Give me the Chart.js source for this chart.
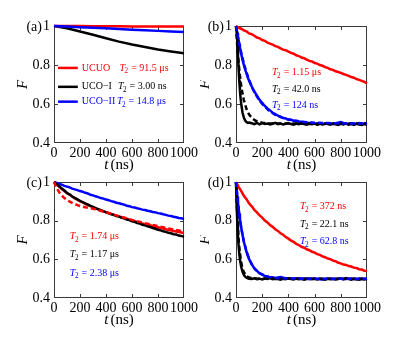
<!DOCTYPE html>
<html><head><meta charset="utf-8">
<script src="https://cdn.jsdelivr.net/npm/chart.js@4.4.1/dist/chart.umd.min.js"></script>
<style>
body{margin:0;background:#fff;}
#wrap{position:relative;width:415px;height:364px;overflow:hidden;}
canvas{position:absolute;}
</style>
</head><body><div id="wrap">
<canvas id="ca" width="200" height="180" style="left:0;top:0;width:200px;height:180px"></canvas>
<canvas id="cb" width="215" height="180" style="left:200px;top:0;width:215px;height:180px"></canvas>
<canvas id="cc" width="200" height="204" style="left:0;top:160px;width:200px;height:204px"></canvas>
<canvas id="cd" width="215" height="204" style="left:200px;top:160px;width:215px;height:204px"></canvas>
</div>
<script>
// ---- tick labels ----
const xTicks = [0, 200, 400, 600, 800, 1000];
const yTicks = [0.4, 0.6, 0.8, 1];

// ---- time grids (ns) ----
const tCoarse = [0,100,200,300,400,500,600,700,800,900,1000];
const tSlow = [0,20,40,60,80,100,120,140,160,180,200,220,240,260,280,300,320,340,360,380,400,420,440,460,480,500,520,540,560,580,600,620,640,660,680,700,720,740,760,780,800,820,840,860,880,900,920,940,960,980,1000];
const tFast = [0,5,10,15,20,25,30,35,40,50,60,70,80,90,100,120,140,160,180,200,220,240,260,280,300,320,340,360,380,400,420,440,460,480,500,520,540,560,580,600,620,640,660,680,700,720,740,760,780,800,820,840,860,880,900,920,940,960,980,1000];
const tFit = [0,10,20,30,40,50,60,80,100,125,150,175,200,250,300,350,400,500,600,700,800,900,1000];

// ---- panel (a) ----
const aRed   = [1,1,1,0.999,0.999,0.999,0.998,0.998,0.998,0.997,0.997];
const aBlack = [1,0.988,0.972,0.955,0.937,0.920,0.905,0.892,0.879,0.869,0.860];
const aBlue  = [1,0.997,0.994,0.991,0.988,0.985,0.981,0.978,0.975,0.972,0.969];

// ---- panel (b) ----
const bRed = [1.000,0.991,0.986,0.978,0.972,0.962,0.958,0.950,0.941,0.937,0.928,0.924,0.915,0.910,0.904,0.897,0.893,0.885,0.879,0.876,0.869,0.862,0.858,0.850,0.846,0.838,0.835,0.828,0.821,0.818,0.810,0.807,0.800,0.796,0.789,0.785,0.778,0.775,0.768,0.764,0.760,0.754,0.749,0.744,0.738,0.735,0.728,0.724,0.719,0.713,0.706];
const bBlack = [1.000,0.97,0.92,0.85,0.78,0.72,0.67,0.63,0.60,0.555,0.53,0.515,0.507,0.503,0.505,
  0.501,0.497,0.503,0.496,0.502,0.498,0.500,0.495,0.499,0.503,0.497,0.500,0.495,0.498,0.502,0.497,0.494,0.500,0.496,0.501,0.497,0.494,0.499,0.496,0.500,0.493,0.498,0.495,0.500,0.497,0.494,0.499,0.496,0.493,0.498,0.495,0.500,0.494,0.497,0.493,0.498,0.495,0.492,0.497,0.494];
const bBlue = [1.000,0.984,0.966,0.947,0.927,0.906,0.889,0.872,0.857,0.826,0.801,0.776,0.757,0.736,0.719,
  0.690,0.664,0.643,0.621,0.606,0.590,0.577,0.567,0.555,0.548,0.540,0.535,0.528,0.526,0.520,0.519,0.514,0.513,0.509,0.509,0.505,0.505,0.502,0.503,0.499,0.499,0.501,0.498,0.497,0.500,0.501,0.498,0.501,0.504,0.507,0.503,0.500,0.498,0.501,0.499,0.500,0.502,0.499,0.500,0.501];
const bBlackFit = [1,0.894,0.81,0.745,0.693,0.652,0.62,0.574,0.546,0.526,0.514,0.508,0.504,0.501,0.5,0.5,0.5,0.5,0.5,0.5,0.5,0.5,0.5];
const bBlueFit  = [1,0.961,0.926,0.893,0.862,0.834,0.808,0.762,0.723,0.682,0.649,0.622,0.6,0.567,0.544,0.530,0.520,0.509,0.504,0.502,0.501,0.5,0.5];

// ---- panel (c) ----
const cRed = [1.000,0.987,0.976,0.963,0.953,0.942,0.934,0.925,0.915,0.909,0.900,0.895,0.887,0.881,0.876,0.869,0.864,0.858,0.853,0.848,0.844,0.838,0.835,0.830,0.826,0.822,0.818,0.814,0.810,0.804,0.801,0.797,0.793,0.790,0.785,0.782,0.779,0.776,0.772,0.768,0.766,0.762,0.759,0.756,0.752,0.750,0.747,0.744,0.741,0.739,0.736];
const cBlack = [1.000,0.988,0.978,0.966,0.956,0.943,0.936,0.925,0.918,0.910,0.903,0.896,0.889,0.884,0.877,0.871,0.865,0.860,0.854,0.849,0.843,0.839,0.833,0.830,0.824,0.821,0.815,0.812,0.806,0.803,0.797,0.794,0.788,0.785,0.779,0.776,0.771,0.767,0.762,0.758,0.753,0.750,0.745,0.742,0.737,0.735,0.730,0.728,0.723,0.721,0.716];
const cBlue = [1.000,0.995,0.990,0.986,0.980,0.976,0.972,0.966,0.962,0.958,0.953,0.950,0.944,0.941,0.934,0.931,0.926,0.922,0.917,0.914,0.909,0.906,0.901,0.898,0.893,0.890,0.886,0.883,0.877,0.875,0.870,0.868,0.864,0.861,0.857,0.855,0.851,0.849,0.845,0.843,0.839,0.837,0.833,0.830,0.826,0.824,0.820,0.818,0.814,0.812,0.808];
const cRedFit = [1,0.984,0.970,0.958,0.947,0.938,0.930,0.917,0.907,0.897,0.889,0.882,0.876,0.868,0.862,0.853,0.844,0.823,0.804,0.787,0.772,0.757,0.744];

// ---- panel (d) ----
const dRed = [1.000,0.975,0.953,0.929,0.911,0.889,0.874,0.856,0.843,0.827,0.816,0.801,0.791,0.777,0.768,0.755,0.747,0.735,0.727,0.715,0.707,0.697,0.690,0.680,0.674,0.665,0.660,0.652,0.647,0.639,0.635,0.627,0.623,0.615,0.611,0.604,0.601,0.593,0.590,0.582,0.579,0.573,0.571,0.565,0.563,0.557,0.555,0.549,0.547,0.541,0.539];
const dBlack = [1.000,0.88,0.79,0.72,0.67,0.63,0.60,0.58,0.56,0.535,0.52,0.51,0.505,0.502,0.50,
  0.498,0.502,0.497,0.500,0.496,0.501,0.499,0.503,0.497,0.500,0.498,0.495,0.500,0.497,0.502,0.498,0.496,0.500,0.497,0.499,0.495,0.498,0.501,0.497,0.499,0.496,0.500,0.498,0.495,0.499,0.497,0.500,0.496,0.498,0.501,0.497,0.503,0.498,0.495,0.499,0.497,0.494,0.498,0.496,0.499];
const dBlue = [1.000,0.962,0.925,0.895,0.863,0.837,0.809,0.787,0.763,0.726,0.691,0.665,0.639,0.620,0.601,
  0.575,0.553,0.540,0.527,0.522,0.514,0.512,0.507,0.507,0.503,0.506,0.508,0.505,0.502,0.500,0.501,0.499,0.500,0.502,0.498,0.500,0.501,0.497,0.499,0.500,0.498,0.497,0.496,0.498,0.500,0.499,0.497,0.498,0.500,0.499,0.497,0.498,0.500,0.499,0.498,0.497,0.499,0.500,0.498,0.499];
const dBlackFit = [1,0.818,0.702,0.629,0.582,0.552,0.533,0.514,0.506,0.502,0.501,0.5,0.5,0.5,0.5,0.5,0.5,0.5,0.5,0.5,0.5,0.5,0.5];
const dBlueFit  = [1,0.926,0.864,0.81,0.764,0.726,0.693,0.641,0.602,0.568,0.546,0.531,0.521,0.509,0.504,0.502,0.501,0.5,0.5,0.5,0.5,0.5,0.5];

const RED = '#ff0000', BLACK = '#000000', BLUE = '#0000ff';
const SERIF = '"Liberation Serif","Times New Roman",serif';

function series(t, f, color, dashed, order) {
  return {
    data: t.map((x, i) => ({ x: x, y: f[i] })),
    borderColor: color, borderWidth: 2.5,
    borderDash: dashed ? [5, 3] : [],
    pointRadius: 0, fill: false, tension: 0, clip: false, order: order
  };
}

function drawT2(ctx, x, y, rest, color, fs) {
  ctx.fillStyle = color; ctx.textBaseline = 'middle'; ctx.textAlign = 'left';
  ctx.font = 'italic ' + fs + 'px ' + SERIF;
  ctx.fillText('T', x, y);
  let w = ctx.measureText('T').width;
  ctx.font = (fs * 0.72) + 'px ' + SERIF;
  ctx.fillText('2', x + w - 0.5, y + fs * 0.32);
  w += ctx.measureText('2').width;
  ctx.font = fs + 'px ' + SERIF;
  ctx.fillText(' = ' + rest, x + w, y);
}

const deco = {
  id: 'deco',
  beforeDatasetsDraw(chart) {
    const ctx = chart.ctx, ca = chart.chartArea;
    const xs = chart.scales.x, ys = chart.scales.y;
    ctx.save();
    ctx.strokeStyle = '#3a3a3a'; ctx.lineWidth = 1;
    ctx.strokeRect(ca.left + 0.5, ca.top + 0.5, ca.right - ca.left - 1, ca.bottom - ca.top - 1);
    ctx.beginPath();
    xTicks.slice(1, -1).forEach(v => {
      const p = Math.round(xs.getPixelForValue(v)) + 0.5;
      ctx.moveTo(p, ca.bottom); ctx.lineTo(p, ca.bottom - 4);
      ctx.moveTo(p, ca.top); ctx.lineTo(p, ca.top + 4);
    });
    yTicks.slice(1, -1).forEach(v => {
      const p = Math.round(ys.getPixelForValue(v)) + 0.5;
      ctx.moveTo(ca.left, p); ctx.lineTo(ca.left + 4, p);
      ctx.moveTo(ca.right, p); ctx.lineTo(ca.right - 4, p);
    });
    ctx.stroke();
    ctx.restore();
  },
  afterDraw(chart, args, opts) {
    const ctx = chart.ctx, ca = chart.chartArea;
    const xs = chart.scales.x, ys = chart.scales.y;
    ctx.save();
    // panel label
    ctx.fillStyle = '#000'; ctx.textBaseline = 'middle'; ctx.textAlign = 'right';
    ctx.font = '14px ' + SERIF;
    ctx.fillText(opts.label, ca.left - 12, ca.top + 1);
    // y title
    ctx.save();
    ctx.translate(ca.left - 31, (ca.top + ca.bottom) / 2);
    ctx.rotate(-Math.PI / 2);
    ctx.textAlign = 'center'; ctx.font = 'italic 15px ' + SERIF;
    ctx.fillText('F', 0, 0);
    ctx.restore();
    // x title
    const cx = (ca.left + ca.right) / 2, ty = ca.bottom + 22;
    ctx.font = 'italic 15px ' + SERIF;
    const wt = ctx.measureText('t').width;
    ctx.font = '15px ' + SERIF;
    const wn = ctx.measureText('(ns)').width;
    const x0 = cx - (wt + 2 + wn) / 2;
    ctx.textAlign = 'left';
    ctx.font = 'italic 15px ' + SERIF; ctx.fillText('t', x0, ty);
    ctx.font = '15px ' + SERIF; ctx.fillText('(ns)', x0 + wt + 2, ty);
    // legend lines + names
    (opts.legend || []).forEach(l => {
      const y = ys.getPixelForValue(l.y);
      ctx.strokeStyle = l.color; ctx.lineWidth = 2.5;
      ctx.beginPath();
      ctx.moveTo(xs.getPixelForValue(l.x1), y); ctx.lineTo(xs.getPixelForValue(l.x2), y);
      ctx.stroke();
      ctx.fillStyle = l.color; ctx.textAlign = 'left'; ctx.textBaseline = 'middle';
      ctx.font = '10px ' + SERIF;
      ctx.fillText(l.name, xs.getPixelForValue(l.nx), y);
    });
    // T2 notes
    (opts.notes || []).forEach(n => {
      drawT2(ctx, xs.getPixelForValue(n.x), ys.getPixelForValue(n.y), n.text, n.color, 10);
    });
    ctx.restore();
  }
};

function makeChart(id, datasets, d, lay) {
  return new Chart(document.getElementById(id), {
    type: 'line',
    data: { datasets: datasets },
    plugins: [deco],
    options: {
      responsive: false, animation: false, devicePixelRatio: 1,
      layout: { padding: { top: lay.pt, right: lay.pr, left: 0, bottom: 0 } },
      plugins: { legend: { display: false }, tooltip: { enabled: false }, deco: d },
      scales: {
        x: {
          type: 'linear', min: 0, max: 1000,
          afterBuildTicks: s => { s.ticks = xTicks.map(v => ({ value: v })); },
          afterFit: s => { s.height = lay.xh; },
          grid: { display: false, drawTicks: false }, border: { display: false },
          ticks: { autoSkip: false, maxRotation: 0, minRotation: 0, padding: 2, color: '#000',
                   font: { family: SERIF, size: 14 }, callback: v => String(v) }
        },
        y: {
          type: 'linear', min: 0.4, max: 1,
          afterBuildTicks: s => { s.ticks = yTicks.map(v => ({ value: v })); },
          afterFit: s => { s.width = lay.yw; },
          grid: { display: false, drawTicks: false }, border: { display: false },
          ticks: { padding: 4, color: '#000', font: { family: SERIF, size: 14 },
                   callback: v => (Math.abs(v - 1) < 1e-9 ? '1' : Number(v).toFixed(1)) }
        }
      }
    }
  });
}

makeChart('ca', [
  series(tCoarse, aBlue, BLUE, false, 1),
  series(tCoarse, aRed, RED, false, 2),
  series(tCoarse, aBlack, BLACK, false, 3)
], {
  label: '(a)',
  legend: [
    { x1: 31, x2: 183, y: 0.785, color: RED, name: 'UCUO', nx: 214 },
    { x1: 31, x2: 183, y: 0.688, color: BLACK, name: 'UCO\u2212I', nx: 214 },
    { x1: 31, x2: 183, y: 0.612, color: BLUE, name: 'UCO\u2212II', nx: 214 }
  ],
  notes: [
    { x: 504, y: 0.785, text: '91.5 \u03bcs', color: RED },
    { x: 492, y: 0.688, text: '3.00 ns', color: BLACK },
    { x: 484, y: 0.612, text: '14.8 \u03bcs', color: BLUE }
  ]
}, { pt: 26, pr: 15, yw: 54, xh: 37 });

makeChart('cb', [
  series(tFit, bBlueFit, BLUE, true, 1),
  series(tFit, bBlackFit, BLACK, true, 1),
  series(tSlow, bRed, RED, false, 2),
  series(tFast, bBlack, BLACK, false, 3),
  series(tFast, bBlue, BLUE, false, 4)
], {
  label: '(b)',
  notes: [
    { x: 275, y: 0.761, text: '1.15 \u03bcs', color: RED },
    { x: 275, y: 0.675, text: '42.0 ns', color: BLACK },
    { x: 275, y: 0.595, text: '124 ns', color: BLUE }
  ]
}, { pt: 26, pr: 48, yw: 36, xh: 37 });

makeChart('cc', [
  series(tFit, cRedFit, RED, true, 1),
  series(tSlow, cBlack, BLACK, false, 2),
  series(tSlow, cRed, RED, false, 3),
  series(tSlow, cBlue, BLUE, false, 4)
], {
  label: '(c)',
  notes: [
    { x: 122, y: 0.717, text: '1.74 \u03bcs', color: RED },
    { x: 122, y: 0.624, text: '1.17 \u03bcs', color: BLACK },
    { x: 122, y: 0.529, text: '2.38 \u03bcs', color: BLUE }
  ]
}, { pt: 22, pr: 15, yw: 54, xh: 66 });

makeChart('cd', [
  series(tFit, dBlueFit, BLUE, true, 1),
  series(tFit, dBlackFit, BLACK, true, 1),
  series(tSlow, dRed, RED, false, 2),
  series(tFast, dBlack, BLACK, false, 3),
  series(tFast, dBlue, BLUE, false, 4)
], {
  label: '(d)',
  notes: [
    { x: 489, y: 0.872, text: '372 ns', color: RED },
    { x: 489, y: 0.781, text: '22.1 ns', color: BLACK },
    { x: 489, y: 0.691, text: '62.8 ns', color: BLUE }
  ]
}, { pt: 22, pr: 48, yw: 36, xh: 66 });
</script>
</body></html>
